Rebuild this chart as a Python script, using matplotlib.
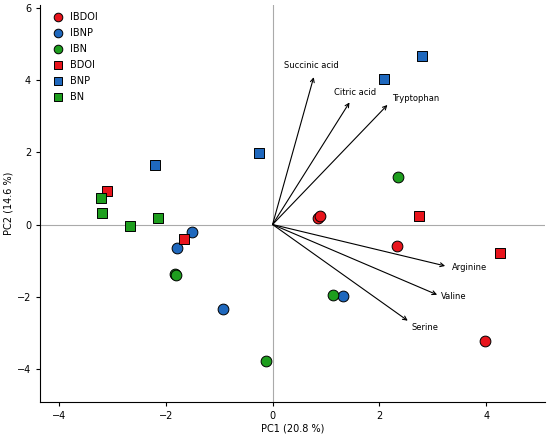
import matplotlib
matplotlib.use("Agg")
import matplotlib.pyplot as plt

# sample scores (PC1, PC2) per group
ibdoi_x = [0.85, 0.88, 2.33, 3.97]
ibdoi_y = [0.17, 0.25, -0.61, -3.23]
ibnp_x = [-1.50, -1.79, -0.93, 1.31]
ibnp_y = [-0.21, -0.64, -2.35, -1.99]
ibn_x = [-1.83, -1.81, -0.13, 1.13, 2.34]
ibn_y = [-1.38, -1.40, -3.78, -1.97, 1.33]
bdoi_x = [-3.09, -1.66, 2.75, 4.25]
bdoi_y = [0.94, -0.40, 0.23, -0.79]
bnp_x = [-2.20, -0.25, 2.08, 2.80]
bnp_y = [1.64, 1.98, 4.03, 4.68]
bn_x = [-3.22, -3.20, -2.66, -2.15]
bn_y = [0.75, 0.33, -0.03, 0.18]

# loading arrows
load_names = ["Succinic acid", "Citric acid", "Tryptophan", "Arginine", "Valine", "Serine"]
load_x = [0.77, 1.44, 2.15, 3.23, 3.08, 2.53]
load_y = [4.09, 3.39, 3.32, -1.15, -1.95, -2.67]
label_x = [0.72, 1.55, 2.67, 3.68, 3.40, 2.85]
label_y = [4.42, 3.66, 3.50, -1.18, -2.00, -2.87]

red = "#e8141c"
blue = "#1f68bd"
green = "#1e9e1e"

fig = plt.figure(figsize=(5.5, 4.38), dpi=100)
ax = fig.add_axes([0.073, 0.082, 0.918, 0.907])

ax.axhline(0, color="#aaaaaa", lw=0.8, zorder=0)
ax.axvline(0, color="#aaaaaa", lw=0.8, zorder=0)

kw = dict(edgecolor="black", linewidths=0.7, zorder=3)
ax.scatter(ibdoi_x, ibdoi_y, s=60, marker="o", color=red, label="IBDOI", **kw)
ax.scatter(ibnp_x, ibnp_y, s=60, marker="o", color=blue, label="IBNP", **kw)
ax.scatter(ibn_x, ibn_y, s=60, marker="o", color=green, label="IBN", **kw)
ax.scatter(bdoi_x, bdoi_y, s=52, marker="s", color=red, label="BDOI", **kw)
ax.scatter(bnp_x, bnp_y, s=52, marker="s", color=blue, label="BNP", **kw)
ax.scatter(bn_x, bn_y, s=52, marker="s", color=green, label="BN", **kw)

for name, x, y, tx, ty in zip(load_names, load_x, load_y, label_x, label_y):
    ax.annotate("", xy=(x, y), xytext=(0, 0),
                arrowprops=dict(arrowstyle="->", color="black", lw=0.8,
                                shrinkA=0, shrinkB=0, mutation_scale=7))
    ax.text(tx, ty, name, fontsize=6, ha="center", va="center")

ax.set_xlim(-4.35, 5.1)
ax.set_ylim(-4.93, 6.1)
ax.set_xticks([-4, -2, 0, 2, 4])
ax.set_yticks([-4, -2, 0, 2, 4, 6])
ax.tick_params(labelsize=7, length=3, width=0.8)
ax.spines["top"].set_visible(False)
ax.spines["right"].set_visible(False)
ax.set_xlabel("PC1 (20.8 %)", fontsize=7, labelpad=2)
ax.set_ylabel("PC2 (14.6 %)", fontsize=7, labelpad=2)

ax.legend(loc="upper left", frameon=False, fontsize=7, handletextpad=0.6,
          labelspacing=0.62, borderaxespad=0.3, handlelength=1.2,
          markerscale=0.8, bbox_to_anchor=(0.01, 1.0))

fig.savefig("out.png", dpi=100)
